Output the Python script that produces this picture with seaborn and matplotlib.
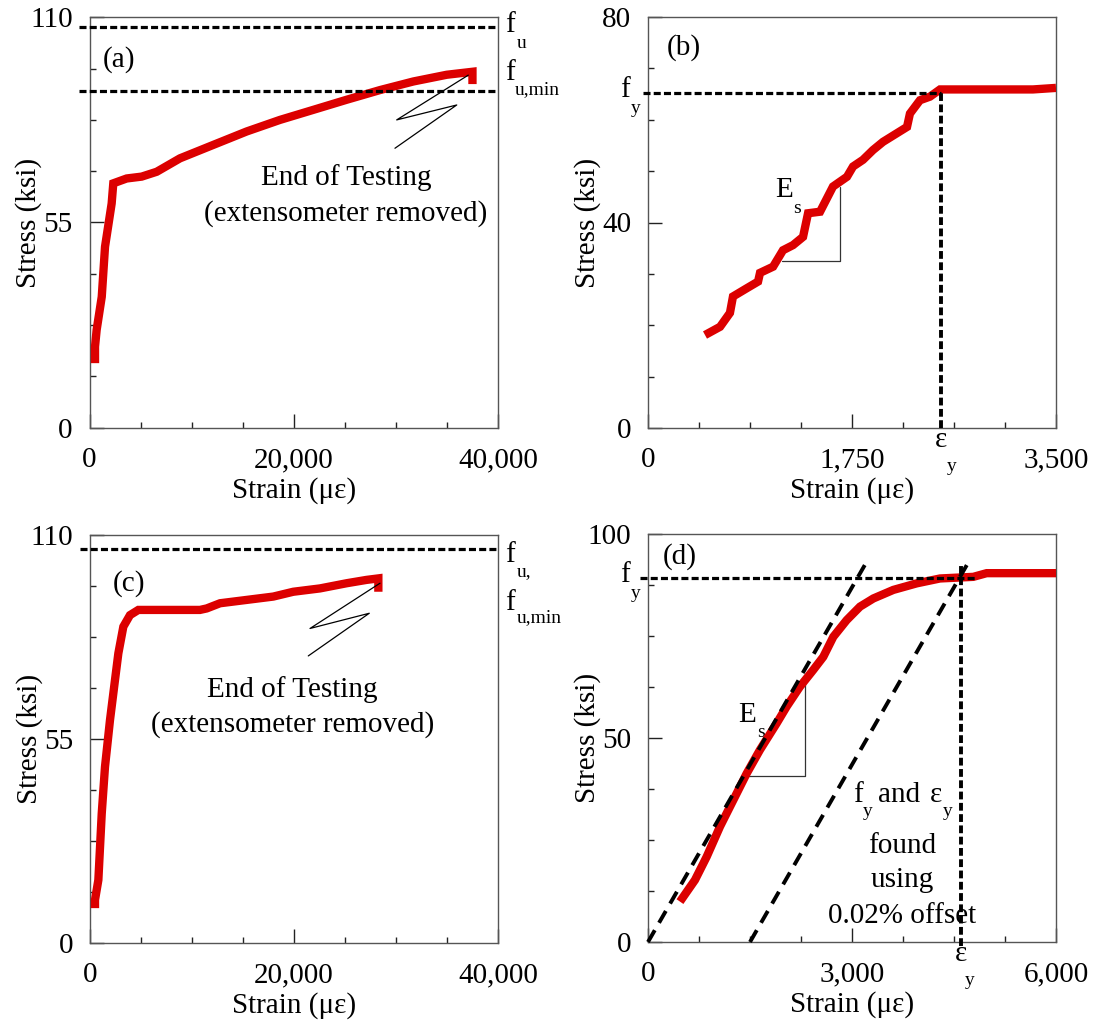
import matplotlib
matplotlib.use("Agg")
import matplotlib.pyplot as plt
import seaborn as sns
import pandas as pd
from matplotlib.ticker import FixedLocator, MultipleLocator, FuncFormatter

# ---------------- data ----------------
# Panel (a)
a_strain = [540, 540, 700, 1200, 1520, 2170, 2330, 3640, 5110, 6580, 8860, 12120,
            15390, 18650, 21920, 25180, 28450, 31710, 34980, 37500, 37500]
a_stress = [17.3, 21.7, 26.2, 35.1, 48.5, 60.1, 65.5, 66.8, 67.3, 68.6, 72.2, 75.8,
            79.4, 82.5, 85.2, 87.9, 90.5, 92.8, 94.6, 95.4, 92.1]
a_fu = 107.5
a_fu_min = 90.2

# Panel (b)
b_strain = [489, 618, 703, 729, 847, 944, 961, 1073, 1158, 1244, 1330, 1373, 1476,
            1587, 1707, 1759, 1844, 1930, 2016, 2222, 2247, 2333, 2419, 2505, 2788,
            3302, 3500]
b_stress = [18.1, 19.7, 22.4, 25.6, 27.2, 28.5, 30.2, 31.4, 34.6, 35.6, 37.2, 41.8,
            42.1, 47.0, 48.9, 50.9, 52.2, 54.1, 55.7, 58.6, 61.2, 63.8, 64.5, 65.9,
            65.9, 65.9, 66.2]
b_fy = 65.3
b_ey = 2510

# Panel (c)
c_strain = [490, 490, 820, 1150, 1470, 1960, 2450, 2780, 3270, 3920, 4740, 10780,
            11440, 12750, 15360, 17970, 19930, 22550, 25170, 27120, 28270, 28270]
c_stress = [9.4, 11.6, 17.0, 34.9, 47.5, 60.1, 70.9, 78.1, 85.3, 88.4, 89.8, 89.8,
            90.2, 91.6, 92.5, 93.4, 94.7, 95.6, 97.0, 97.9, 98.3, 94.7]
c_fu = 106.1

# Panel (d)
d_strain = [470, 691, 863, 1059, 1255, 1451, 1647, 1892, 2039, 2235, 2431, 2578,
            2725, 2922, 3118, 3314, 3608, 3951, 4294, 4784, 4980, 6000]
d_stress = [9.9, 15.2, 20.9, 28.3, 34.8, 41.3, 47.1, 53.6, 57.7, 62.6, 66.7, 69.9,
            74.8, 78.9, 82.2, 84.2, 86.3, 87.9, 89.1, 89.5, 90.4, 90.4]
d_fy = 89.3
d_ey = 4600
d_es_strain = [0, 3230]
d_es_stress = [0, 93.6]
d_off_strain = [1500, 4730]
d_off_stress = [0, 93.6]

# tick labels
a_xticks = [0, 20000, 40000]; a_yticks = [0, 55, 110]
b_xticks = [0, 1750, 3500];   b_yticks = [0, 40, 80]
c_xticks = [0, 20000, 40000]; c_yticks = [0, 55, 110]
d_xticks = [0, 3000, 6000];   d_yticks = [0, 50, 100]

# ---------------- style ----------------
sns.set_theme(style="ticks")
plt.rcParams["font.family"] = ["Liberation Serif", "DejaVu Serif"]
plt.rcParams["axes.unicode_minus"] = False
plt.rcParams["text.color"] = "black"
plt.rcParams["axes.labelcolor"] = "black"
plt.rcParams["xtick.labelcolor"] = "black"
plt.rcParams["ytick.labelcolor"] = "black"

RED = "#dc0000"
FS = 21
SUB = 14

fig = plt.figure(figsize=(10.99, 10.32), dpi=100)
W, H = 1099, 1032


def rect(l, r, t, b):
    return [l / W, 1 - b / H, (r - l) / W, (b - t) / H]


axa = fig.add_axes(rect(89.5, 498, 17.3, 427.7))
axb = fig.add_axes(rect(648, 1056, 17, 428))
axc = fig.add_axes(rect(90, 498, 535, 943))
axd = fig.add_axes(rect(648, 1056, 534, 942))


def setup(ax, xlim, ylim, xt, yt, xminor, yminor):
    ax.set_xlim(xlim)
    ax.set_ylim(ylim)
    ax.xaxis.set_major_locator(FixedLocator(xt))
    ax.yaxis.set_major_locator(FixedLocator(yt))
    ax.xaxis.set_minor_locator(MultipleLocator(xminor))
    ax.yaxis.set_minor_locator(MultipleLocator(yminor))
    ax.xaxis.set_major_formatter(FuncFormatter(lambda v, p: f"{v:,.0f}"))
    ax.yaxis.set_major_formatter(FuncFormatter(lambda v, p: f"{v:,.0f}"))
    ax.tick_params(which="both", direction="in", top=False, right=False,
                   color="#222222", width=1)
    ax.tick_params(which="major", length=10, labelsize=FS, labelcolor="black")
    ax.tick_params(which="minor", length=4.5)
    ax.tick_params(axis="x", which="major", pad=14)
    ax.tick_params(axis="y", which="major", pad=12)
    for s in ax.spines.values():
        s.set_visible(True)
        s.set_color("#555555")
        s.set_linewidth(1.0)
    ax.set_xlabel("Strain (με)", fontsize=FS, color="black")
    ax.set_ylabel("Stress (ksi)", fontsize=FS, color="black")
    ax.xaxis.set_label_coords(0.5, -0.12)
    ax.yaxis.set_label_coords(-0.116, 0.5)
    ax.grid(False)


def red_curve(ax, xs, ys):
    df = pd.DataFrame({"strain": xs, "stress": ys})
    sns.lineplot(data=df, x="strain", y="stress", ax=ax, sort=False, estimator=None,
                 color=RED, linewidth=6.0, solid_capstyle="butt",
                 solid_joinstyle="miter", legend=False, zorder=4)


def dashed(ax, xs, ys, transform=None, lw=2.3, dashes=(2.2, 1.0)):
    kw = dict(color="black", lw=lw, dashes=dashes, clip_on=False, zorder=5)
    if transform is not None:
        kw["transform"] = transform
    ax.plot(xs, ys, **kw)


def ftext(ax, x, y, main, sub, dx, dy):
    ax.text(x, y, main, transform=ax.transAxes, fontsize=FS, ha="left",
            va="baseline", clip_on=False)
    ax.text(x + dx, y + dy, sub, transform=ax.transAxes, fontsize=SUB, ha="left",
            va="baseline", clip_on=False)


# ---------------- panel (a) ----------------
setup(axa, (0, 40000), (0, 110), a_xticks, a_yticks, 5000, 13.75)
red_curve(axa, a_strain, a_stress)
dashed(axa, [-0.025, 1.0], [a_fu, a_fu], transform=axa.get_yaxis_transform())
dashed(axa, [-0.025, 1.0], [a_fu_min, a_fu_min], transform=axa.get_yaxis_transform())
axa.text(0.033, 0.898, "(a)", transform=axa.transAxes, fontsize=FS, va="center")
ftext(axa, 1.017, 0.964, "f", "u", 0.0295, -0.0395)
ftext(axa, 1.017, 0.847, "f", "u,min", 0.025, -0.034)
axa.plot([29910, 35960, 30080, 37090], [74.9, 86.5, 82.5, 94.5], color="black",
         lw=0.9, zorder=6)
axa.text(25120, 65.05, "End of Testing", fontsize=FS, ha="center", va="baseline")
axa.text(25120, 55.6, "(extensometer removed)", fontsize=FS, ha="center",
         va="baseline")

# ---------------- panel (b) ----------------
setup(axb, (0, 3500), (0, 80), b_xticks, b_yticks, 437.5, 10)
red_curve(axb, b_strain, b_stress)
dashed(axb, [-45, b_ey], [b_fy, b_fy])
dashed(axb, [b_ey, b_ey], [0, b_fy], lw=2.8, dashes=(2.0, 0.9))
axb.plot([1146, 1647, 1647], [32.5, 32.5, 47.0], color="#333333", lw=0.9, zorder=3)
axb.text(1089, 44.96, "E", fontsize=FS, ha="left", va="baseline")
axb.text(1244, 41.85, "s", fontsize=SUB, ha="left", va="baseline")
axb.text(0.047, 0.925, "(b)", transform=axb.transAxes, fontsize=FS, va="center")
ftext(axb, -0.069, 0.805, "f", "y", 0.027, -0.039)
axb.text(b_ey, -0.046, "ε", transform=axb.get_xaxis_transform(), fontsize=FS,
         ha="center", va="baseline", clip_on=False)
axb.text(b_ey + 55, -0.104, "y", transform=axb.get_xaxis_transform(), fontsize=SUB,
         ha="left", va="baseline", clip_on=False)

# ---------------- panel (c) ----------------
setup(axc, (0, 40000), (0, 110), c_xticks, c_yticks, 5000, 13.75)
red_curve(axc, c_strain, c_stress)
dashed(axc, [-0.025, 1.0], [c_fu, c_fu], transform=axc.get_yaxis_transform())
axc.text(0.056, 0.882, "(c)", transform=axc.transAxes, fontsize=FS, va="center")
ftext(axc, 1.017, 0.934, "f", "u,", 0.03, -0.034)
ftext(axc, 1.017, 0.816, "f", "u,min", 0.03, -0.029)
axc.plot([21400, 27380, 21570, 28430], [77.4, 88.9, 84.8, 97.0], color="black",
         lw=0.9, zorder=6)
axc.text(19850, 66.3, "End of Testing", fontsize=FS, ha="center", va="baseline")
axc.text(19850, 56.9, "(extensometer removed)", fontsize=FS, ha="center",
         va="baseline")

# ---------------- panel (d) ----------------
setup(axd, (0, 6000), (0, 100), d_xticks, d_yticks, 750, 12.5)
dashed(axd, d_es_strain, d_es_stress, lw=2.8, dashes=(3.5, 2.2))
dashed(axd, d_off_strain, d_off_stress, lw=2.8, dashes=(3.5, 2.2))
red_curve(axd, d_strain, d_stress)
dashed(axd, [-0.02 * 6000, 4810], [d_fy, d_fy])
dashed(axd, [d_ey, d_ey], [-1.0, 92.9], lw=2.8, dashes=(2.0, 0.9))
axd.plot([1475, 2309, 2309], [40.8, 40.8, 63.8], color="#333333", lw=0.9, zorder=3)
axd.text(1324, 53.9, "E", fontsize=FS, ha="left", va="baseline")
axd.text(1603, 50.2, "s", fontsize=SUB, ha="left", va="baseline")
axd.text(0.037, 0.944, "(d)", transform=axd.transAxes, fontsize=FS, va="center")
ftext(axd, -0.069, 0.882, "f", "y", 0.027, -0.039)
axd.text(d_ey, -0.0466, "ε", transform=axd.get_xaxis_transform(), fontsize=FS,
         ha="center", va="baseline", clip_on=False)
axd.text(d_ey + 62, -0.105, "y", transform=axd.get_xaxis_transform(), fontsize=SUB,
         ha="left", va="baseline", clip_on=False)
# f_y and e_y found using 0.02% offset
axd.text(3015, 34.3, "f", fontsize=FS, ha="left", va="baseline")
axd.text(3162, 30.9, "y", fontsize=SUB, ha="left", va="baseline")
axd.text(3382, 34.3, "and", fontsize=FS, ha="left", va="baseline")
axd.text(4147, 34.3, "ε", fontsize=FS, ha="left", va="baseline")
axd.text(4338, 30.9, "y", fontsize=SUB, ha="left", va="baseline")
axd.text(3743, 21.8, "found", fontsize=FS, ha="center", va="baseline")
axd.text(3743, 13.5, "using", fontsize=FS, ha="center", va="baseline")
axd.text(3743, 4.66, "0.02% offset", fontsize=FS, ha="center", va="baseline")

fig.savefig("out.png", dpi=100)
